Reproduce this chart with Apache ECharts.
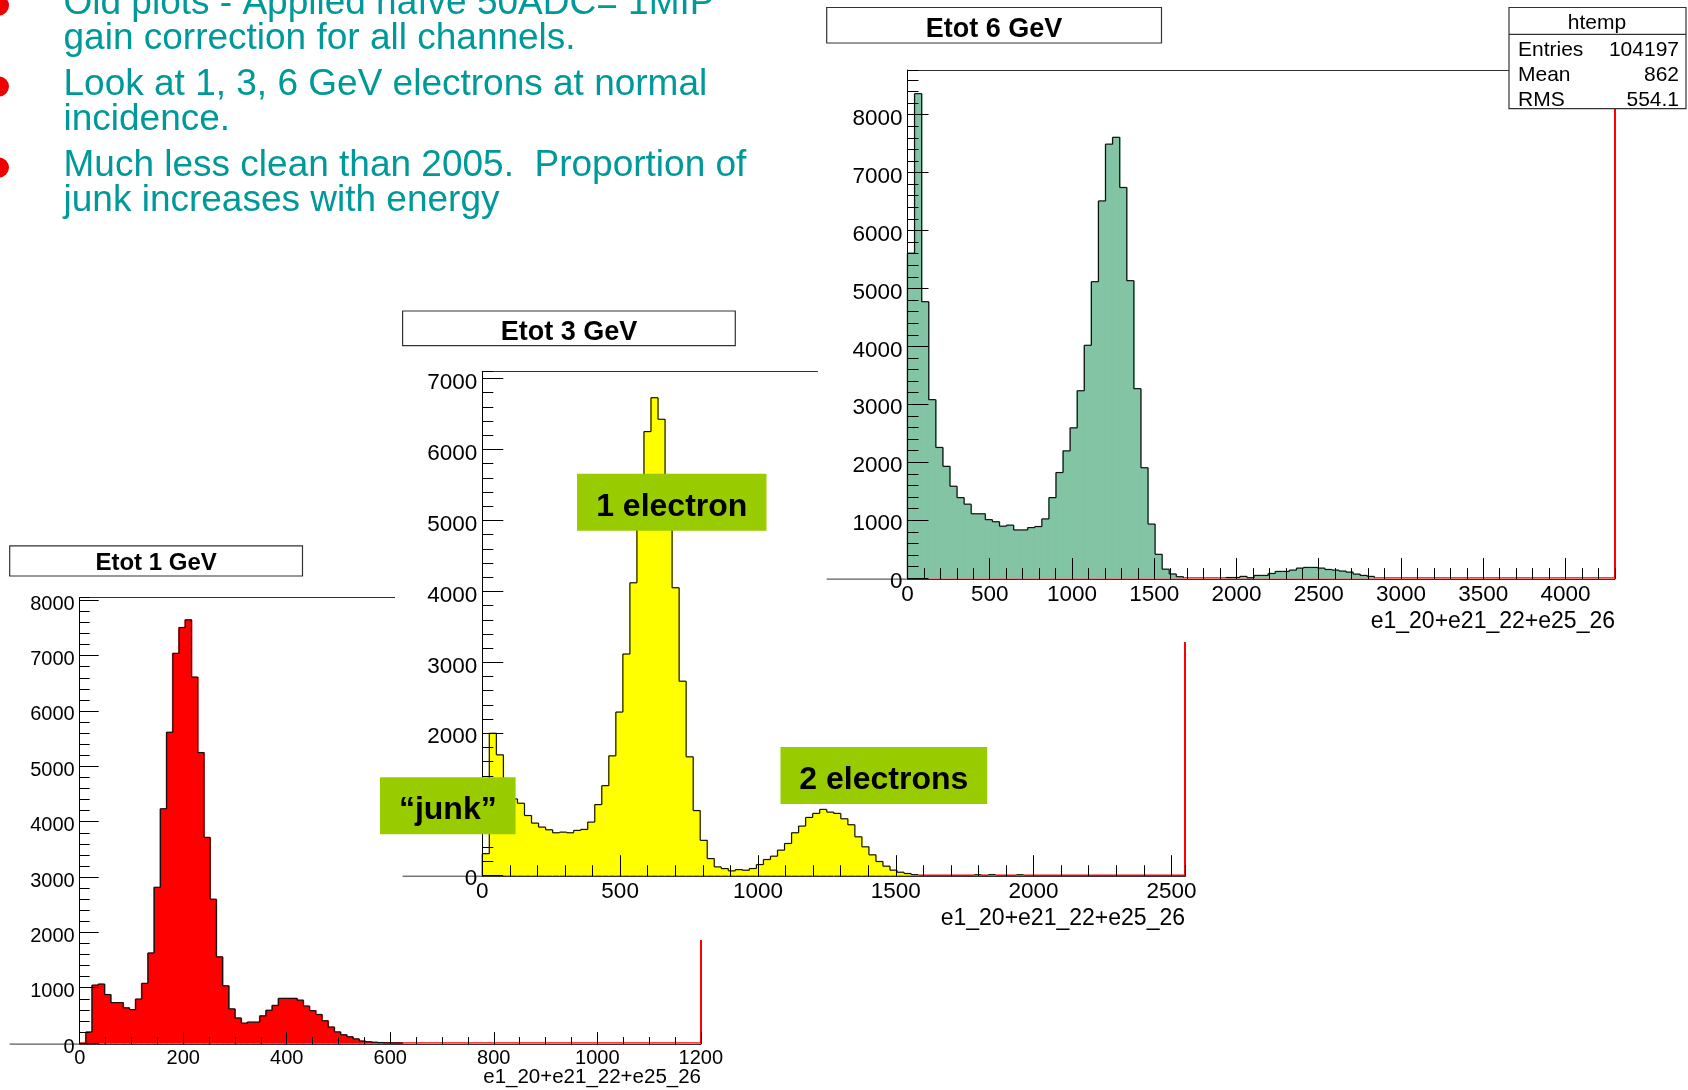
<!DOCTYPE html>
<html><head><meta charset="utf-8">
<script src="https://cdn.jsdelivr.net/npm/echarts@6/dist/echarts.min.js"></script>
<style>html,body{margin:0;padding:0;background:#fff;overflow:hidden}#c{width:1688px;height:1090px}</style>
</head><body><div id="c"></div>
<script>
// ---------------- data ----------------
const bulletLines = [
  ['Old plots - Applied naïve 50ADC= 1MIP', 'gain correction for all channels.'],
  ['Look at 1, 3, 6 GeV electrons at normal', 'incidence.'],
  ['Much less clean than 2005.  Proportion of', 'junk increases with energy']
];
const padTitles = ['Etot 1 GeV', 'Etot 3 GeV', 'Etot 6 GeV'];
const xAxisTitle = 'e1_20+e21_22+e25_26';
const annotationTexts = ['1 electron', '2 electrons', '\u201Cjunk\u201D'];
const statsName = 'htemp';
const statsLabels = ['Entries', 'Mean', 'RMS'];
const statsValues = ['104197', '862', '554.1'];

const binWidth1 = 12, binWidth3 = 25.5, binWidth6 = 43;
const yMax1 = 8050, yMax3 = 7100, yMax6 = 8770;
const xMajor1 = 200, xMinor1 = 50, xMajor3 = 500, xMinor3 = 100, xMajor6 = 500, xMinor6 = 100;
const yMajor = 1000, yMinor = 200;

const counts1GeV = [
  0,200,1047,1066,877,732,732,637,606,795,
  1079,1628,2814,4233,5615,7041,7508,7647,6612,5249,
  3716,2599,1558,1035,618,454,360,379,379,492,
  593,681,808,808,808,776,669,587,517,404,
  290,202,151,114,76,38,25,15,10,5,
  3,2,0,0,0,0,0,0,0,0,
  0,0,0,0,0,0,0,0,0,0,
  0,0,0,0,0,0,0,0,0,0,
  0,0,0,0,0,0,0,0,0,0,
  0,0,0,0,0,0,0,0,0,0
];
const counts3GeV = [
  304,2000,1696,1250,1075,1014,841,734,678,640,
  598,607,598,631,645,748,995,1262,1682,2299,
  3117,4121,5300,6252,6729,6425,5400,4051,2734,1668,
  911,491,234,117,93,61,79,70,94,150,
  221,268,353,447,598,692,814,871,927,889,
  871,795,711,541,400,287,193,127,71,42,
  24,8,0,0,0,0,0,0,0,0,
  6,0,8,0,0,0,6,0,0,0,
  0,0,0,0,0,0,0,0,0,0,
  0,0,0,0,0,0,0,0,0,0
];
const counts6GeV = [
  5608,8362,4771,3080,2255,1929,1585,1389,1276,1110,
  1110,1009,973,896,914,831,831,872,890,1021,
  1389,1822,2196,2593,3234,4018,5116,6510,7490,7608,
  6742,5134,3270,1905,932,410,154,71,24,0,
  0,0,0,0,0,10,10,29,6,46,
  46,80,115,115,138,172,184,184,172,149,
  138,121,103,69,46,29,0,0,0,0,
  0,0,0,0,0,0,0,0,0,0,
  0,0,0,0,0,0,0,0,0,0,
  0,0,0,0,0,0,0,0,0,0
];

// ---------------- layout / style ----------------
const FONT = "'Liberation Sans', Arial, Helvetica, sans-serif";
const plain = v => String(v);
const pads = [
  { counts: counts1GeV, w: binWidth1, yMax: yMax1, xMaj: xMajor1, xMin: xMinor1, fill: '#ff0000',
    grid: {left: 79.7, top: 597.5, width: 621.1, height: 445.6},
    padLeft: 9.7, lab: 20, yTickMaj: 19, yTickMin: 10, xTickMaj: 12, xTickMin: 7, showMaxX: true,
    title: {x: 9.7, y: 545.8, w: 292.8, h: 30.2, fs: 24, dy: 2.5}, axTitle: {fs: 20.5, dy: 33} },
  { counts: counts3GeV, w: binWidth3, yMax: yMax3, xMaj: xMajor3, xMin: xMinor3, fill: '#ffff00',
    grid: {left: 482.3, top: 371.4, width: 702.9, height: 503.8},
    padLeft: 402.6, lab: 22.5, yTickMaj: 21, yTickMin: 11, xTickMaj: 21, xTickMin: 11, showMaxX: false,
    title: {x: 402.6, y: 311, w: 332.7, h: 34.6, fs: 27, dy: 4}, axTitle: {fs: 23, dy: 43} },
  { counts: counts6GeV, w: binWidth6, yMax: yMax6, xMaj: xMajor6, xMin: xMinor6, fill: '#82c4a4',
    grid: {left: 907.5, top: 70, width: 707.3, height: 508.1},
    padLeft: 826.7, lab: 22.5, yTickMaj: 21, yTickMin: 11, xTickMaj: 21, xTickMin: 11, showMaxX: false,
    title: {x: 826.7, y: 7.5, w: 334.8, h: 35.5, fs: 27, dy: 4}, axTitle: {fs: 23, dy: 43} }
];

const grids = [], xAxes = [], yAxes = [], series = [], graphics = [];

pads.forEach((p, k) => {
  const zb = 10 * k;
  const xMax = p.counts.length * p.w;
  grids.push(Object.assign({containLabel: false}, p.grid));
  const common = {gridIndex: k, type: 'value', min: 0, max: xMax, z: zb + 5, splitLine: {show: false}};
  xAxes.push(Object.assign({}, common, {
    position: 'bottom', offset: 1, interval: p.xMaj,
    axisLine: {show: true, onZero: false, lineStyle: {color: '#333', width: 1}},
    axisTick: {show: true, inside: true, length: p.xTickMaj, lineStyle: {color: '#000', width: 1}},
    axisLabel: {show: true, margin: 4, fontSize: p.lab, color: '#000', fontFamily: FONT,
                showMaxLabel: p.showMaxX, formatter: plain}
  }));
  xAxes.push(Object.assign({}, common, {
    position: 'bottom', offset: 1, interval: p.xMin,
    axisLine: {show: false, onZero: false},
    axisTick: {show: true, inside: true, length: p.xTickMin, lineStyle: {color: '#000', width: 1}},
    axisLabel: {show: false}
  }));
  xAxes.push(Object.assign({}, common, {
    position: 'top',
    axisLine: {show: true, onZero: false, lineStyle: {color: '#333', width: 1.2}},
    axisTick: {show: false}, axisLabel: {show: false}
  }));
  const yc = {gridIndex: k, type: 'value', min: 0, max: p.yMax, z: zb + 5, splitLine: {show: false}};
  yAxes.push(Object.assign({}, yc, {
    position: 'left', interval: yMajor,
    axisLine: {show: true, onZero: false, lineStyle: {color: '#000', width: 1}},
    axisTick: {show: true, inside: true, length: p.yTickMaj, lineStyle: {color: '#000', width: 1}},
    axisLabel: {show: true, margin: 5, fontSize: p.lab, color: '#000', fontFamily: FONT,
                showMaxLabel: false, formatter: plain, verticalAlign: 'top', lineHeight: 8}
  }));
  yAxes.push(Object.assign({}, yc, {
    position: 'left', interval: yMinor,
    axisLine: {show: false, onZero: false},
    axisTick: {show: true, inside: true, length: p.yTickMin, lineStyle: {color: '#000', width: 1}},
    axisLabel: {show: false}
  }));
  yAxes.push(Object.assign({}, yc, {
    position: 'right',
    axisLine: {show: true, onZero: false, lineStyle: {color: '#ff0000', width: 2}},
    axisTick: {show: false}, axisLabel: {show: false}
  }));

  // red base line of the frame
  series.push({
    type: 'line', xAxisIndex: 3 * k, yAxisIndex: 3 * k, z: zb + 2, silent: true,
    symbol: 'none', data: [[0, 0], [xMax, 0]], lineStyle: {color: '#ff0000', width: 1.5}
  });
  // histogram
  const counts = p.counts, w = p.w, fill = p.fill;
  series.push({
    type: 'custom', xAxisIndex: 3 * k, yAxisIndex: 3 * k, z: zb + 3, silent: true, clip: false,
    data: counts.map((v, i) => [i * w, (i + 1) * w, v, i > 0 ? counts[i - 1] : 0]),
    encode: {x: [0, 1], y: [2]},
    renderItem(params, api) {
      const x0 = api.value(0), x1 = api.value(1), v = api.value(2), pv = api.value(3);
      const a = api.coord([x0, 0]), b = api.coord([x1, v]), c = api.coord([x0, pv]);
      const ch = [];
      if (v > 0) {
        ch.push({type: 'rect', shape: {x: a[0] - 0.5, y: b[1], width: b[0] - a[0] + 1, height: a[1] - b[1]},
                 style: {fill: fill, stroke: fill, lineWidth: 0.6}, z2: 0});
        ch.push({type: 'line', shape: {x1: a[0], y1: b[1], x2: b[0], y2: b[1]},
                 style: {stroke: '#111', lineWidth: 1.2}, z2: 10});
      }
      if (v !== pv) {
        ch.push({type: 'line', shape: {x1: a[0], y1: c[1], x2: a[0], y2: b[1]},
                 style: {stroke: '#111', lineWidth: 1.2}, z2: 10});
      }
      return {type: 'group', children: ch};
    }
  });

  const g = p.grid, base = g.top + g.height + 1, right = g.left + g.width;
  // extension of x axis line to the pad's left
  graphics.push({type: 'line', z: zb + 5, shape: {x1: p.padLeft, y1: base, x2: g.left, y2: base},
                 style: {stroke: '#333', lineWidth: 1}});
  // axis title
  graphics.push({type: 'text', z: zb + 6, x: Math.round(right), y: Math.round(base + p.axTitle.dy),
                 style: {text: xAxisTitle, fill: '#000', fontSize: p.axTitle.fs, fontFamily: FONT,
                         align: 'right', verticalAlign: 'middle', textAlign: 'right', textVerticalAlign: 'middle'}});
  // title box
  const t = p.title;
  graphics.push({type: 'rect', z: zb + 6, shape: {x: t.x, y: t.y, width: t.w, height: t.h},
                 style: {fill: '#fff', stroke: '#333', lineWidth: 1.2}});
  graphics.push({type: 'text', z: zb + 7, x: t.x + t.w / 2, y: t.y + t.h / 2 + t.dy,
                 style: {text: padTitles[k], fill: '#000', fontSize: t.fs, fontWeight: 'bold', fontFamily: FONT,
                         align: 'center', verticalAlign: 'middle', textAlign: 'center', textVerticalAlign: 'middle'}});
});

// white pad backgrounds (stacking of the pasted plots)
graphics.push({type: 'rect', z: 10, shape: {x: 395, y: 300, width: 812, height: 640}, style: {fill: '#fff'}});
graphics.push({type: 'rect', z: 20, shape: {x: 818, y: 0, width: 870, height: 642}, style: {fill: '#fff'}});

// stats box
graphics.push({type: 'rect', z: 27, shape: {x: 1509, y: 7.5, width: 177, height: 101.2},
               style: {fill: '#fff', stroke: '#333', lineWidth: 1.2}});
graphics.push({type: 'line', z: 28, shape: {x1: 1509, y1: 34.4, x2: 1686, y2: 34.4}, style: {stroke: '#333', lineWidth: 1.2}});
graphics.push({type: 'text', z: 28, x: 1597, y: 23,
               style: {text: statsName, fill: '#000', fontSize: 21, fontFamily: FONT,
                       align: 'center', verticalAlign: 'middle', textAlign: 'center', textVerticalAlign: 'middle'}});
statsLabels.forEach((s, i) => {
  const y = 50.6 + i * 24.8;
  graphics.push({type: 'text', z: 28, x: 1518, y: y,
                 style: {text: s, fill: '#000', fontSize: 21, fontFamily: FONT,
                         align: 'left', verticalAlign: 'middle', textAlign: 'left', textVerticalAlign: 'middle'}});
  graphics.push({type: 'text', z: 28, x: 1679, y: y,
                 style: {text: statsValues[i], fill: '#000', fontSize: 21, fontFamily: FONT,
                         align: 'right', verticalAlign: 'middle', textAlign: 'right', textVerticalAlign: 'middle'}});
});

// annotation boxes
const annBoxes = [
  {x: 577, y: 473.7, w: 189.5, h: 57, fs: 32},
  {x: 780.5, y: 747, w: 206.7, h: 57, fs: 32},
  {x: 380, y: 777.2, w: 135.6, h: 57, fs: 32}
];
annBoxes.forEach((b, i) => {
  graphics.push({type: 'rect', z: 30, shape: {x: b.x, y: b.y, width: b.w, height: b.h}, style: {fill: '#99cc00'}});
  graphics.push({type: 'text', z: 31, x: b.x + b.w / 2, y: b.y + b.h / 2 + 4.5,
                 style: {text: annotationTexts[i], fill: '#000', fontSize: b.fs, fontWeight: 'bold', fontFamily: FONT,
                         align: 'center', verticalAlign: 'middle', textAlign: 'center', textVerticalAlign: 'middle'}});
});

// bullet text
const bulletFs = 37, lineGap = 35.5, bulletGap = 45.5;
let baseY = 15.2;
bulletLines.forEach((lines, bi) => {
  graphics.push({type: 'circle', z: 30, shape: {cx: -1, cy: baseY - 0.358 * bulletFs + 3.5, r: 10},
                 style: {fill: '#ee0000'}});
  lines.forEach((ln, li) => {
    graphics.push({type: 'text', z: 30, x: 63.5, y: baseY - 0.32 * bulletFs,
                   style: {text: ln, fill: '#009999', fontSize: bulletFs, fontFamily: FONT,
                           align: 'left', verticalAlign: 'middle', textAlign: 'left', textVerticalAlign: 'middle'}});
    baseY += (li === lines.length - 1) ? bulletGap : lineGap;
  });
});

const chart = echarts.init(document.getElementById('c'), null, {renderer: 'canvas'});
chart.setOption({
  animation: false,
  backgroundColor: '#ffffff',
  grid: grids,
  xAxis: xAxes,
  yAxis: yAxes,
  series: series,
  graphic: {elements: graphics}
});
</script>
</body></html>
